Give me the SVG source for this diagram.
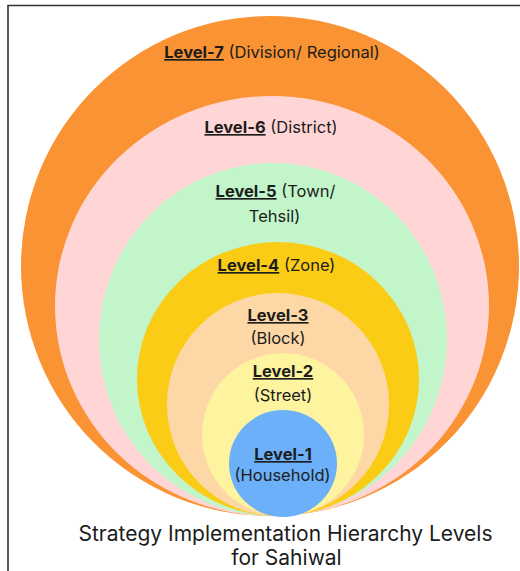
<svg xmlns="http://www.w3.org/2000/svg" width="520" height="571" viewBox="0 0 520 571">
<style>
  .lbl { font-family: Inter, "Noto Sans", "Liberation Sans", sans-serif; font-size: 16.5px; fill: #1c1c1c; text-anchor: middle; }
  .b { font-weight: 700; text-decoration: underline; }
  .title { font-family: Inter, "Noto Sans", "Liberation Sans", sans-serif; font-size: 21px; fill: #1c1c1c; text-anchor: middle; }
</style>
<rect width="520" height="571" fill="#ffffff"/>
<path d="M8,571 V5.5 H520" fill="none" stroke="#333333" stroke-width="1.6"/>
<g id="level-7">
  <ellipse cx="270" cy="266" rx="249" ry="250" fill="#F99333"/>
  <text class="lbl" x="272" y="58"><tspan class="b">Level-7</tspan> (Division/ Regional)</text>
</g>
<g id="level-6">
  <ellipse cx="272" cy="306" rx="217" ry="210" fill="#FFD5D5"/>
  <text class="lbl" x="271" y="133"><tspan class="b">Level-6</tspan> (District)</text>
</g>
<g id="level-5">
  <ellipse cx="273" cy="339.5" rx="174" ry="176.5" fill="#C2F5C9"/>
  <text class="lbl" x="275.5" y="197"><tspan class="b">Level-5</tspan> (Town/</text>
  <text class="lbl" x="274.5" y="222">Tehsil)</text>
</g>
<g id="level-4">
  <ellipse cx="278" cy="379" rx="141" ry="137" fill="#FACC15"/>
  <text class="lbl" x="276.5" y="271"><tspan class="b">Level-4</tspan> (Zone)</text>
</g>
<g id="level-3">
  <ellipse cx="278" cy="404.5" rx="111" ry="111.5" fill="#FDD8A6"/>
  <text class="lbl" x="278" y="321"><tspan class="b">Level-3</tspan></text>
  <text class="lbl" x="278" y="344">(Block)</text>
</g>
<g id="level-2">
  <ellipse cx="283" cy="434.5" rx="81" ry="81.5" fill="#FEF39F"/>
  <text class="lbl" x="283" y="377"><tspan class="b">Level-2</tspan></text>
  <text class="lbl" x="283" y="401">(Street)</text>
</g>
<g id="level-1">
  <ellipse cx="283" cy="463.5" rx="54" ry="53.5" fill="#6BB0F8"/>
  <text class="lbl" x="283" y="460"><tspan class="b">Level-1</tspan></text>
  <text class="lbl" x="282.5" y="481">(Household)</text>
</g>
<g id="connectors"></g>
<g id="title">
  <text class="title" x="285.5" y="541">Strategy Implementation Hierarchy Levels</text>
  <text class="title" x="286.5" y="565">for Sahiwal</text>
</g>
</svg>
